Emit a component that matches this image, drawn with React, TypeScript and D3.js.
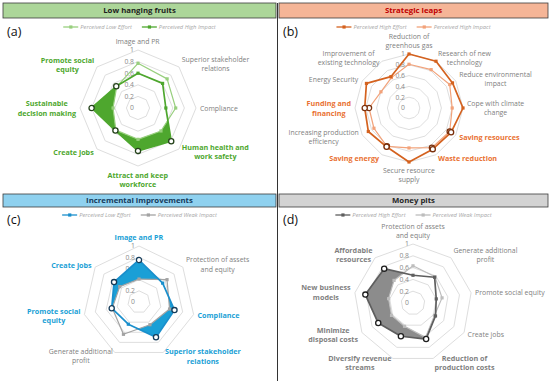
import React, { useEffect, useRef } from "react";
import * as d3 from "d3";

const W = 550;
const H = 381;
const FONT = "'Open Sans', 'Noto Sans', sans-serif";

// ring levels shared by all four radars
const ringTicks = [0, 0.2, 0.4, 0.6, 0.8, 1];

// (a) Low hanging fruits
const catsA = ["Image and PR", "Superior stakeholder|relations", "Compliance", "Human health and|work safety", "Attract and keep|workforce", "Create jobs", "Sustainable|decision making", "Promote social|equity"];
const boldA = ["Human health and|work safety", "Attract and keep|workforce", "Create jobs", "Sustainable|decision making", "Promote social|equity"];
const lowEffortA = [0.77, 0.71, 0.65, 0.56, 0.54, 0.54, 0.43, 0.52];
const highImpactA = [0.6, 0.6, 0.48, 0.81, 0.74, 0.55, 0.8, 0.53];

// (b) Strategic leaps
const catsB = ["Reduction of|greenhous gas", "Research of new|technology", "Reduce environmental|impact", "Cope with climate|change", "Saving resources", "Waste reduction", "Secure resource|supply", "Saving energy", "Increasing production|efficiency", "Funding and|financing", "Energy Security", "Improvement of|existing technology"];
const boldB = ["Saving resources", "Waste reduction", "Saving energy", "Funding and|financing"];
const highEffortB = [1.0, 1.0, 0.93, 1.0, 0.9, 0.88, 1.0, 0.83, 0.87, 0.82, 0.91, 0.67];
const highImpactB = [0.81, 0.82, 0.87, 0.8, 0.87, 0.85, 0.74, 0.82, 0.75, 0.74, 0.6, 0.65];

// (c) Incremental improvements
const catsC = ["Image and PR", "Protection of assets|and equity", "Compliance", "Superior stakeholder|relations", "Generate additional|profit", "Promote social|equity", "Create jobs"];
const boldC = ["Image and PR", "Compliance", "Superior stakeholder|relations", "Promote social|equity", "Create jobs"];
const lowEffortC = [0.75, 0.54, 0.65, 0.7, 0.44, 0.5, 0.57];
const weakImpactC = [0.41, 0.64, 0.56, 0.45, 0.64, 0.49, 0.44];

// (d) Money pits
const catsD = ["Protection of assets|and equity", "Generate additional|profit", "Promote social equity", "Create jobs", "Reduction of|production costs", "Diversify revenue|streams", "Minimize|disposal costs", "New business|models", "Affordable|resources"];
const boldD = ["Reduction of|production costs", "Diversify revenue|streams", "Minimize|disposal costs", "New business|models", "Affordable|resources"];
const highEffortD = [0.47, 0.57, 0.4, 0.44, 0.65, 0.6, 0.68, 0.82, 0.76];
const weakImpactD = [0.63, 0.58, 0.5, 0.42, 0.62, 0.42, 0.42, 0.42, 0.5];

interface Panel {
    id: string;
    title: string;
    titleColor: string;
    barColor: string;
    bar: { x: number; y: number; w: number; h: number };
    letterY: number;
    legendY: number;
    cx: number;
    cy: number;
    R: number;
    cats: string[];
    bold: string[];
    accent: string;
    names: string[];
    values: number[][];
    colors: string[];
    main: number; // series that gets the fill and the hollow markers
    fill: string | null;
    ringColor: string; // outline of the hollow markers
    boldBoth?: boolean;
}

const panels: Panel[] = [
    {
        id: "a", title: "Low hanging fruits", titleColor: "#1e1e1e", barColor: "#acd699",
        bar: { x: 3, y: 3, w: 273, h: 15 }, letterY: 36, legendY: 27,
        cx: 138, cy: 108, R: 58, cats: catsA, bold: boldA, accent: "#4ea72e",
        names: ["Perceived Low Effort", "Perceived High Impact"],
        values: [lowEffortA, highImpactA], colors: ["#98cf7e", "#4ea72e"],
        main: 1, fill: "#4ea72e", ringColor: "#24421a"
    },
    {
        id: "b", title: "Strategic leaps", titleColor: "#c00000", barColor: "#f5b597",
        bar: { x: 279, y: 3, w: 269, h: 15 }, letterY: 36, legendY: 27,
        cx: 409, cy: 108, R: 54, cats: catsB, bold: boldB, accent: "#e97132",
        names: ["Perceived High Effort", "Perceived High Impact"],
        values: [highEffortB, highImpactB], colors: ["#d4621f", "#f2a27a"],
        main: 0, fill: null, ringColor: "#7a300c", boldBoth: true
    },
    {
        id: "c", title: "Incremental improvements", titleColor: "#163a5c", barColor: "#8fd1ef",
        bar: { x: 3, y: 194, w: 273, h: 13 }, letterY: 224, legendY: 215,
        cx: 139, cy: 302, R: 56, cats: catsC, bold: boldC, accent: "#1a9fd6",
        names: ["Perceived Low Effort", "Perceived Weak Impact"],
        values: [lowEffortC, weakImpactC], colors: ["#1a8fcc", "#a3a3a3"],
        main: 0, fill: "#1a9fd6", ringColor: "#153c5a"
    },
    {
        id: "d", title: "Money pits", titleColor: "#262626", barColor: "#d3d3d3",
        bar: { x: 279, y: 194, w: 269, h: 13 }, letterY: 224, legendY: 215,
        cx: 413, cy: 303, R: 59, cats: catsD, bold: boldD, accent: "#7f7f7f",
        names: ["Perceived High Effort", "Perceived Weak Impact"],
        values: [highEffortD, weakImpactD], colors: ["#5e5e5e", "#bdbdbd"],
        main: 0, fill: "#8c8c8c", ringColor: "#1e1e1e"
    }
];

function drawPanel(svg: d3.Selection<SVGSVGElement, unknown, null, undefined>, p: Panel) {
    const midX = p.bar.x + p.bar.w / 2;

    // header bar
    svg.append("rect")
        .attr("x", p.bar.x).attr("y", p.bar.y)
        .attr("width", p.bar.w).attr("height", p.bar.h)
        .attr("fill", p.barColor)
        .attr("stroke", "#3c3c3c").attr("stroke-width", 0.8);
    svg.append("text")
        .attr("x", midX).attr("y", p.bar.y + p.bar.h / 2)
        .attr("dy", "0.35em")
        .attr("text-anchor", "middle")
        .attr("font-size", 7.8).attr("font-weight", 700)
        .attr("fill", p.titleColor)
        .text(p.title);

    // panel letter
    svg.append("text")
        .attr("x", p.bar.x + 4).attr("y", p.letterY)
        .attr("font-size", 12.5).attr("fill", "#111")
        .text(`(${p.id})`);

    // legend, centred under the bar
    const lg = svg.append("g");
    let lx = 0;
    p.names.forEach((name, k) => {
        const it = lg.append("g").attr("transform", `translate(${lx},0)`);
        it.append("line").attr("x1", 0).attr("x2", 15)
            .attr("stroke", p.colors[k]).attr("stroke-width", 1.3);
        it.append("rect").attr("x", 6).attr("y", -1.6).attr("width", 3.2).attr("height", 3.2)
            .attr("fill", p.colors[k]);
        const t = it.append("text").attr("x", 17).attr("dy", "0.35em")
            .attr("font-size", 5.8).attr("font-style", "italic").attr("fill", "#a6a6a6")
            .text(name);
        lx += 17 + (t.node() as SVGTextElement).getComputedTextLength() + 10;
    });
    lg.attr("transform", `translate(${midX - (lx - 10) / 2},${p.legendY})`);

    // radar
    const n = p.cats.length;
    const step = (2 * Math.PI) / n;
    const r = d3.scaleLinear().domain([0, 1]).range([0, p.R]);
    const pt = (v: number, i: number): [number, number] =>
        [r(v) * Math.sin(i * step), -r(v) * Math.cos(i * step)];
    const g = svg.append("g").attr("transform", `translate(${p.cx},${p.cy})`);

    ringTicks.filter(t => t > 0).forEach(t => {
        g.append("polygon")
            .attr("points", p.cats.map((_, i) => pt(t, i).join(",")).join(" "))
            .attr("fill", "none").attr("stroke", "#dedede").attr("stroke-width", 1);
    });

    g.selectAll(".ring-label").data(ringTicks).enter().append("text")
        .attr("class", "ring-label")
        .attr("x", -4).attr("y", d => -r(d)).attr("dy", "0.35em")
        .attr("text-anchor", "end").attr("font-size", 6.8).attr("fill", "#8a8a8a")
        .text(d => d3.format("~g")(d));

    // category labels, placed just outside the outer ring
    const lh = 9.3;
    p.cats.forEach((c, i) => {
        const a = i * step;
        const s = Math.sin(a), co = Math.cos(a);
        const px = (p.R + 4) * s, py = -(p.R + 4) * co;
        const isBold = p.bold.includes(c);
        const t = g.append("text")
            .attr("text-anchor", "middle")
            .attr("font-size", isBold ? 7.2 : 6.9)
            .attr("font-weight", isBold ? 700 : 400)
            .attr("fill", isBold ? p.accent : "#808080");
        c.split("|").forEach((line, k) => {
            t.append("tspan").attr("x", 0).attr("y", k * lh).text(line);
        });
        const bb = (t.node() as SVGTextElement).getBBox();
        let tx: number, ty: number;
        if (Math.abs(s) < 0.05) {
            tx = px - (bb.x + bb.width / 2);
            ty = co > 0 ? py - (bb.y + bb.height) : py - bb.y;
        } else {
            ty = py - (bb.y + bb.height / 2);
            tx = s > 0 ? px - bb.x : px - (bb.x + bb.width);
        }
        t.attr("transform", `translate(${tx},${ty})`);
    });

    const radial = d3.lineRadial<number>()
        .angle((_, i) => i * step)
        .radius(d => r(d))
        .curve(d3.curveLinearClosed);

    // fill only where the main series lies outside the other one
    if (p.fill) {
        const other = p.values[1 - p.main];
        const mask = svg.append("defs").append("mask").attr("id", `mask-${p.id}`)
            .attr("maskUnits", "userSpaceOnUse")
            .attr("x", -150).attr("y", -150).attr("width", 300).attr("height", 300);
        mask.append("rect").attr("x", -150).attr("y", -150).attr("width", 300).attr("height", 300).attr("fill", "white");
        mask.append("path").attr("d", radial(other)).attr("fill", "black");
        g.append("path")
            .attr("d", radial(p.values[p.main]))
            .attr("fill", p.fill)
            .attr("mask", `url(#mask-${p.id})`);
    }

    const order = [1 - p.main, p.main];
    order.forEach(k => {
        const vals = p.values[k];
        const isMain = k === p.main;
        g.append("path")
            .attr("d", radial(vals))
            .attr("fill", "none")
            .attr("stroke", p.colors[k])
            .attr("stroke-width", isMain ? 1.7 : 1.2)
            .attr("stroke-linejoin", "round");
        g.selectAll(`.mk-${k}`).data(vals).enter().append("rect")
            .attr("class", `mk-${k}`)
            .attr("x", (d, i) => pt(d, i)[0] - 1.6)
            .attr("y", (d, i) => pt(d, i)[1] - 1.6)
            .attr("width", 3.2).attr("height", 3.2)
            .attr("fill", p.colors[k]);
        if (isMain || p.boldBoth) {
            vals.forEach((v, i) => {
                if (!p.bold.includes(p.cats[i])) return;
                const [x, y] = pt(v, i);
                g.append("circle").attr("cx", x).attr("cy", y).attr("r", 2.6)
                    .attr("fill", "#fff").attr("stroke", p.ringColor).attr("stroke-width", 1.3);
            });
        }
    });
}

const App: React.FC = () => {
    const svgRef = useRef<SVGSVGElement>(null);

    useEffect(() => {
        if (!svgRef.current) return;
        const svg = d3.select(svgRef.current);
        svg.selectAll("*").remove();
        svg.append("rect").attr("width", W).attr("height", H).attr("fill", "#fff");

        panels.forEach(p => drawPanel(svg, p));

        // divider between left and right panels
        svg.append("line")
            .attr("x1", 277.5).attr("x2", 277.5).attr("y1", 3).attr("y2", H)
            .attr("stroke", "#333").attr("stroke-width", 1);
    }, []);

    return (
        <svg
            ref={svgRef}
            width={W}
            height={H}
            style={{ position: "absolute", left: 0, top: 0, fontFamily: FONT }}
        />
    );
};

export default App;
